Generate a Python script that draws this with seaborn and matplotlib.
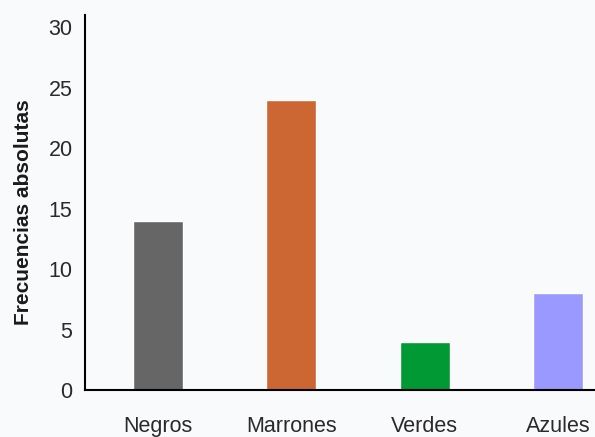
import pandas as pd
import matplotlib
matplotlib.use("Agg")
import matplotlib.pyplot as plt
import seaborn as sns

# colores de ojos
categorias = ["Negros", "Marrones", "Verdes", "Azules"]
frecuencias = [14, 24, 4, 8]
colores = ["#666666", "#CC6633", "#009933", "#9999FF"]
yticks = [0, 5, 10, 15, 20, 25, 30]

df = pd.DataFrame({"color": categorias, "freq": frecuencias})

sns.set_style("white")
plt.rcParams['font.family'] = ['Liberation Sans', 'DejaVu Sans']

fondo = "#f9fafb"
fig = plt.figure(figsize=(5.95, 4.37), dpi=100, facecolor=fondo)
ax = fig.add_axes([85 / 595, 1 - 390 / 437, 510 / 595, 375 / 437])
ax.set_facecolor(fondo)

sns.barplot(data=df, x="color", y="freq", hue="color", palette=colores,
            width=0.375, legend=False, saturation=1, ax=ax)

ax.set_xlim(-0.548, 3.278)
ax.set_ylim(0, 31)
ax.set_yticks(yticks)
ax.set_yticklabels([str(v) for v in yticks])
ax.tick_params(axis="y", length=0, pad=9, labelsize=15.5, labelcolor="#2a2a2a")
ax.tick_params(axis="x", length=0, pad=19, labelsize=15.5, labelcolor="#2a2a2a")

ax.set_xlabel("")
ax.set_ylabel("Frecuencias absolutas", fontsize=15, fontweight="bold",
              color="#1a1a1a")
ax.yaxis.set_label_coords(-0.102, 0.475)

for s in ["top", "right"]:
    ax.spines[s].set_visible(False)
for s in ["left", "bottom"]:
    ax.spines[s].set_color("black")
    ax.spines[s].set_linewidth(1.5)

fig.savefig("out.png", dpi=100, facecolor=fondo)
